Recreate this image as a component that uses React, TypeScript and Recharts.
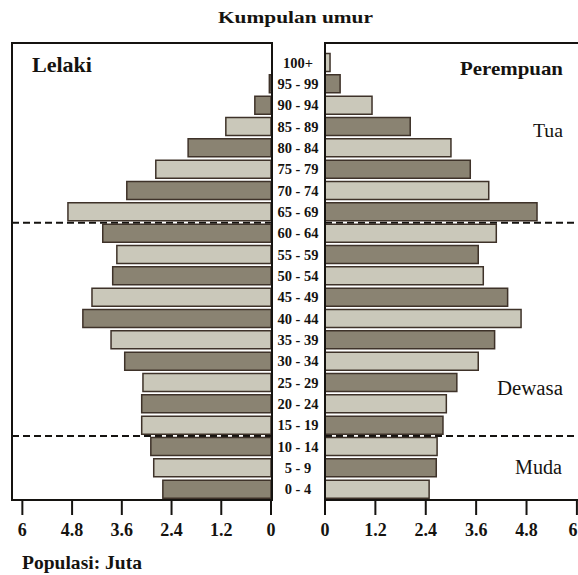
import React from 'react'
import { BarChart, Bar, XAxis, YAxis, Cell, ReferenceArea } from 'recharts'

// age groups, youngest first
const ageGroups = [
  '0 - 4', '5 - 9', '10 - 14', '15 - 19', '20 - 24', '25 - 29', '30 - 34',
  '35 - 39', '40 - 44', '45 - 49', '50 - 54', '55 - 59', '60 - 64', '65 - 69',
  '70 - 74', '75 - 79', '80 - 84', '85 - 89', '90 - 94', '95 - 99', '100+',
]

// populasi (juta)
const lelaki = [
  2.61, 2.83, 2.9, 3.12, 3.12, 3.09, 3.53, 3.86, 4.54, 4.32, 3.82,
  3.72, 4.06, 4.9, 3.48, 2.78, 2.0, 1.09, 0.39, 0.04, 0,
]
const perempuan = [
  2.48, 2.65, 2.67, 2.81, 2.89, 3.14, 3.65, 4.04, 4.67, 4.35, 3.77,
  3.65, 4.08, 5.05, 3.9, 3.46, 3.0, 2.03, 1.12, 0.36, 0.12,
]

const xTicks = [0, 1.2, 2.4, 3.6, 4.8, 6]

// dashed separators sit between these pairs of groups
const separators = [
  ['65 - 69', '60 - 64'],
  ['15 - 19', '10 - 14'],
]

const FONT = '"Liberation Serif", "Times New Roman", serif'
const DARK = '#8a8372'
const LIGHT = '#cac8ba'
const EDGE = '#3e3229'
const INK = '#151310'

const rows = ageGroups
  .map((age, i) => ({ age, idx: i, male: lelaki[i], female: perempuan[i] }))
  .reverse()

const dashedEdge = (props: any) => {
  const { x, y, width, height } = props
  const mid = y + height / 2
  return (
    <line x1={x} x2={x + width} y1={mid} y2={mid} stroke={INK} strokeWidth={2} strokeDasharray="7 4" />
  )
}

const AgeTick = (props: any) => {
  const { x, y, payload } = props
  return (
    <text
      x={x - 27}
      y={y}
      dy="0.35em"
      textAnchor="middle"
      fontFamily={FONT}
      fontWeight="bold"
      fontSize={14.5}
      fill={INK}
    >
      {payload.value}
    </text>
  )
}

// right panel runs past the page edge; keep the last label on the page
const RightTick = (props: any) => {
  const { x, y, payload } = props
  return (
    <text
      x={Math.min(x, 302)}
      y={y}
      dy="0.71em"
      textAnchor="middle"
      fontFamily={FONT}
      fontWeight="bold"
      fontSize={18}
      fill={INK}
    >
      {payload.value}
    </text>
  )
}

const tickStyle = { fontSize: 18, fontWeight: 'bold', fill: INK, fontFamily: FONT }

const boxStyle = (left: number, width: number): React.CSSProperties => ({
  position: 'absolute',
  left,
  top: 42,
  width,
  height: 459,
  boxSizing: 'border-box',
  border: `2px solid ${INK}`,
  pointerEvents: 'none',
})

export default function App() {
  return (
    <div
      style={{
        position: 'absolute',
        left: 0,
        top: 0,
        width: 578,
        height: 575,
        overflow: 'hidden',
        background: '#fff',
      }}
    >
      <div style={{ position: 'absolute', left: 0, top: 0 }}>
        <BarChart
          width={280}
          height={560}
          data={rows}
          layout="vertical"
          margin={{ top: 52, right: 9, bottom: 20, left: 12 }}
          barCategoryGap={1.5}
        >
          <XAxis
            type="number"
            domain={[0, 6.25]}
            reversed
            allowDataOverflow
            ticks={xTicks}
            interval={0}
            height={40}
            axisLine={false}
            tickLine={{ stroke: INK, strokeWidth: 2 }}
            tickSize={15}
            tickMargin={8}
            tick={tickStyle}
          />
          <YAxis type="category" dataKey="age" hide />
          <Bar dataKey="male" isAnimationActive={false} stroke={EDGE} strokeWidth={1.5}>
            {rows.map((r) => (
              <Cell key={r.age} fill={r.idx % 2 === 0 ? DARK : LIGHT} />
            ))}
          </Bar>
          {separators.map(([a, b]) => (
            <ReferenceArea key={a} y1={a} y2={b} shape={dashedEdge} />
          ))}
        </BarChart>
      </div>

      <div style={{ position: 'absolute', left: 271, top: 0 }}>
        <BarChart
          width={329}
          height={560}
          data={rows}
          layout="vertical"
          margin={{ top: 52, right: 0, bottom: 20, left: 0 }}
          barCategoryGap={1.5}
        >
          <XAxis
            type="number"
            domain={[0, 6.55]}
            allowDataOverflow
            ticks={xTicks}
            interval={0}
            height={40}
            axisLine={false}
            tickLine={{ stroke: INK, strokeWidth: 2 }}
            tickSize={15}
            tickMargin={8}
            tick={<RightTick />}
          />
          <YAxis
            type="category"
            dataKey="age"
            width={54}
            interval={0}
            axisLine={false}
            tickLine={false}
            tickSize={0}
            tickMargin={0}
            tick={<AgeTick />}
          />
          <Bar dataKey="female" isAnimationActive={false} stroke={EDGE} strokeWidth={1.5}>
            {rows.map((r) => (
              <Cell key={r.age} fill={r.idx % 2 === 0 ? LIGHT : DARK} />
            ))}
          </Bar>
          {separators.map(([a, b]) => (
            <ReferenceArea key={a} y1={a} y2={b} shape={dashedEdge} />
          ))}
        </BarChart>
      </div>

      <div style={boxStyle(11, 262)} />
      <div style={boxStyle(324, 300)} />

      <svg
        width={578}
        height={575}
        style={{ position: 'absolute', left: 0, top: 0, pointerEvents: 'none' }}
        fontFamily={FONT}
        fill={INK}
      >
        <text x={218} y={23} fontSize={17} fontWeight="bold" textLength={155} lengthAdjust="spacingAndGlyphs">
          Kumpulan umur
        </text>
        <text x={32} y={72} fontSize={22} fontWeight="bold" textLength={60} lengthAdjust="spacingAndGlyphs">
          Lelaki
        </text>
        <text x={460} y={75} fontSize={19} fontWeight="bold" textLength={103} lengthAdjust="spacingAndGlyphs">
          Perempuan
        </text>
        <text x={533} y={137} fontSize={19} textLength={30} lengthAdjust="spacingAndGlyphs">
          Tua
        </text>
        <text x={497} y={395} fontSize={20} textLength={66} lengthAdjust="spacingAndGlyphs">
          Dewasa
        </text>
        <text x={515} y={474} fontSize={20} textLength={47} lengthAdjust="spacingAndGlyphs">
          Muda
        </text>
        <text x={22} y={569} fontSize={19} fontWeight="bold" textLength={120} lengthAdjust="spacingAndGlyphs">
          Populasi: Juta
        </text>
      </svg>
    </div>
  )
}
